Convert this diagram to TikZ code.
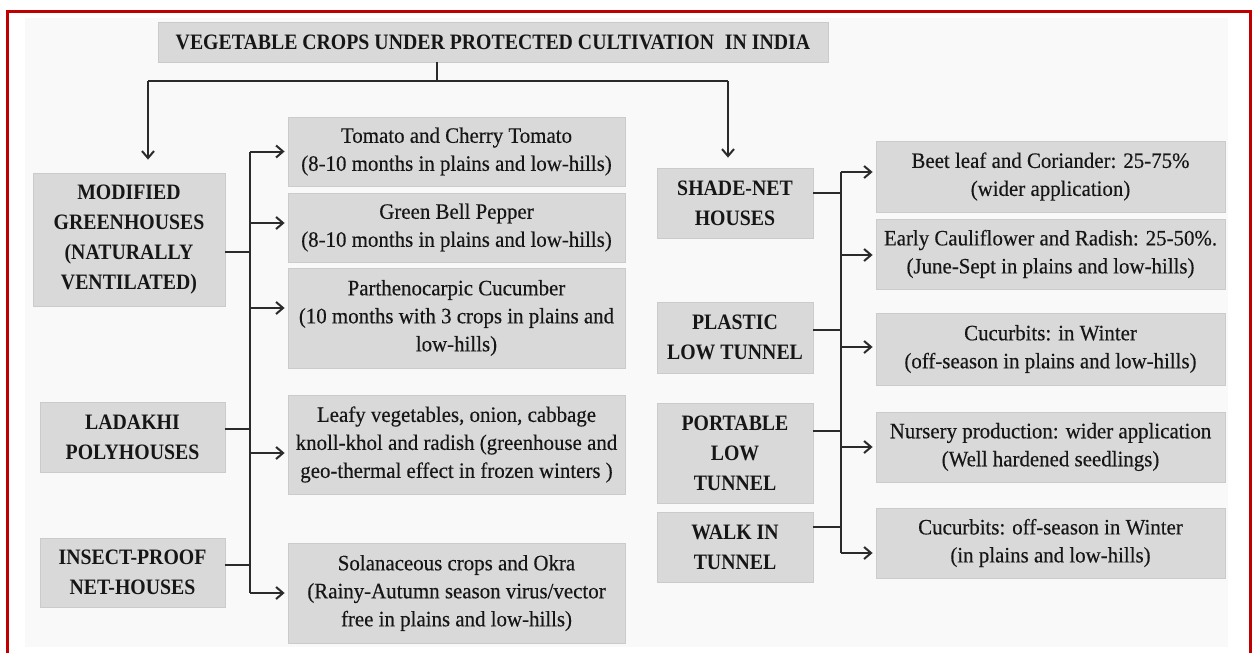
\documentclass[tikz,border=0pt]{standalone}
\usepackage{fontspec}
\setmainfont{Liberation Serif}
\newfontfamily\bodyf[FakeStretch=0.95,FakeBold=0.3]{Liberation Serif}
\newfontfamily\labf[FakeStretch=0.9]{Liberation Serif}
\usetikzlibrary{arrows.meta,calc}
\definecolor{boxgray}{HTML}{D9D9D9}
\definecolor{boxedge}{HTML}{CBCBCB}
\definecolor{linec}{HTML}{2B2B2B}
\definecolor{txt}{HTML}{161616}
\definecolor{framered}{HTML}{C00000}
\definecolor{panel}{HTML}{F9F9F9}
\tikzset{
 box/.style={rectangle, fill=boxgray, draw=boxedge, line width=0.8pt, inner sep=0pt, align=center, text=txt},
 crop/.style={box, font=\bodyf\fontsize{22}{28}\selectfont},
 cat/.style={box, font=\labf\bfseries\fontsize{22}{30}\selectfont},
 conn/.style={draw=linec, line width=2pt},
 arr/.style={conn, -{Straight Barb[length=7pt,width=12pt,line width=2pt]}, shorten >=3pt},
}
\begin{document}
\begin{tikzpicture}[x=1pt,y=-1pt]
\useasboundingbox (0,0) rectangle (1255,653);
\fill[white] (0,0) rectangle (1255,653);
\fill[panel] (25,18) rectangle (1228,647);
\draw[framered, line width=3pt] (7.5,653) -- (7.5,11) -- (1250,11) -- (1250,653);

% title
\node[cat, minimum width=670pt, minimum height=40pt] (title) at (493,42)
  {VEGETABLE CROPS UNDER PROTECTED CULTIVATION\hspace{6pt} IN INDIA};

% left categories
\node[cat, minimum width=192pt, minimum height=133pt] (mod) at (129,239.5)
  {MODIFIED\\GREENHOUSES\\(NATURALLY\\VENTILATED)};
\node[cat, minimum width=185pt, minimum height=70pt] (lad) at (132.5,437)
  {LADAKHI\\POLYHOUSES};
\node[cat, minimum width=185pt, minimum height=69pt] (ins) at (132.5,572.5)
  {INSECT-PROOF\\NET-HOUSES};

% middle crops
\node[crop, minimum width=337pt, minimum height=69pt] (tom) at (456.5,151.5)
  {Tomato and Cherry Tomato\\(8-10 months in plains and low-hills)};
\node[crop, minimum width=337pt, minimum height=69pt] (grn) at (456.5,227.5)
  {Green Bell Pepper\\(8-10 months in plains and low-hills)};
\node[crop, minimum width=337pt, minimum height=100pt] (par) at (456.5,318)
  {Parthenocarpic Cucumber\\(10 months with 3 crops in plains and\\low-hills)};
\node[crop, minimum width=337pt, minimum height=99pt] (lea) at (456.5,444.5)
  {Leafy vegetables, onion, cabbage\\knoll-khol and radish (greenhouse and\\geo-thermal effect in frozen winters )};
\node[crop, minimum width=337pt, minimum height=100pt] (sol) at (456.5,593)
  {Solanaceous crops and Okra\\(Rainy-Autumn season virus/vector\\free in plains and low-hills)};

% right categories
\node[cat, minimum width=156pt, minimum height=70pt] (shade) at (735,203)
  {SHADE-NET\\HOUSES};
\node[cat, minimum width=156pt, minimum height=71pt] (plas) at (735,337.5)
  {PLASTIC\\LOW TUNNEL};
\node[cat, minimum width=156pt, minimum height=100pt] (port) at (735,453)
  {PORTABLE\\LOW\\TUNNEL};
\node[cat, minimum width=156pt, minimum height=70pt] (walk) at (735,547)
  {WALK IN\\TUNNEL};

% right crops
\node[crop, minimum width=349pt, minimum height=71pt] (beet) at (1050.5,176.5)
  {Beet leaf and Coriander: 25-75\%\\(wider application)};
\node[crop, minimum width=349pt, minimum height=70pt] (early) at (1050.5,254)
  {Early Cauliflower and Radish: 25-50\%.\\(June-Sept in plains and low-hills)};
\node[crop, minimum width=349pt, minimum height=72pt] (cuc1) at (1050.5,349)
  {Cucurbits: in Winter\\(off-season in plains and low-hills)};
\node[crop, minimum width=349pt, minimum height=70pt] (nurs) at (1050.5,447)
  {Nursery production: wider application\\(Well hardened seedlings)};
\node[crop, minimum width=349pt, minimum height=70pt] (cuc2) at (1050.5,543)
  {Cucurbits: off-season in Winter\\(in plains and low-hills)};

% top connectors
\coordinate (tj) at (437,81);
\coordinate (lj) at (148,81);
\coordinate (rj) at (728,81);
\draw[conn] (title.south -| tj) -- (tj);
\draw[conn] (lj) -- (rj);
\draw[arr, shorten >=13pt] (lj) -- (lj |- mod.north);
\draw[arr, shorten >=10pt] (rj) -- (rj |- shade.north);

% left tree
\coordinate (vl) at (250,0);
\draw[conn] (vl |- tom.west) -- (vl |- sol.west);
\draw[conn] ($(mod.east)+(0,12.5)$) -- ++(25,0);
\draw[conn] ($(lad.east)+(0,-8)$) -- ++(25,0);
\draw[conn] ($(ins.east)+(0,-7.5)$) -- ++(25,0);
\draw[arr] (vl |- tom.west) -- (tom.west);
\draw[arr] ($(vl |- grn.west)+(0,-4.5)$) -- ($(grn.west)+(0,-4.5)$);
\draw[arr] ($(vl |- par.west)+(0,-10)$) -- ($(par.west)+(0,-10)$);
\draw[arr] ($(vl |- lea.west)+(0,8.5)$) -- ($(lea.west)+(0,8.5)$);
\draw[arr] (vl |- sol.west) -- (sol.west);

% right tree
\coordinate (vr) at (841,0);
\draw[conn] ($(vr |- beet.west)+(0,-4.5)$) -- ($(vr |- cuc2.west)+(0,10)$);
\draw[conn] ($(shade.east)+(0,-10)$) -- ++(28,0);
\draw[conn] ($(plas.east)+(0,-7.5)$) -- ++(28,0);
\draw[conn] ($(port.east)+(0,-22)$) -- ++(28,0);
\draw[conn] ($(walk.east)+(0,-20)$) -- ++(28,0);
\draw[arr] ($(vr |- beet.west)+(0,-4.5)$) -- ($(beet.west)+(0,-4.5)$);
\draw[arr] ($(vr |- early.west)+(0,1)$) -- ($(early.west)+(0,1)$);
\draw[arr] ($(vr |- cuc1.west)+(0,-2)$) -- ($(cuc1.west)+(0,-2)$);
\draw[arr] (vr |- nurs.west) -- (nurs.west);
\draw[arr] ($(vr |- cuc2.west)+(0,10)$) -- ($(cuc2.west)+(0,10)$);
\end{tikzpicture}
\end{document}
